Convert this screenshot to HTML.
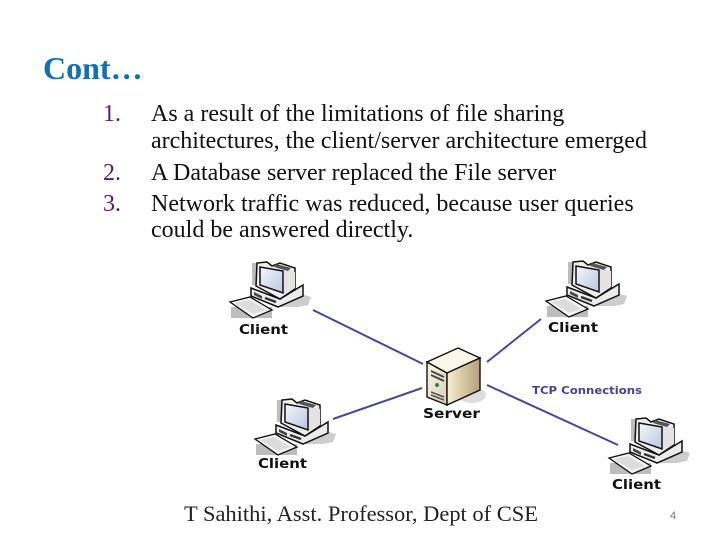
<!DOCTYPE html>
<html><head><meta charset="utf-8">
<style>
html,body{margin:0;padding:0;background:#fff}
#p{position:relative;width:720px;height:540px;overflow:hidden;background:#fff;font-family:"Liberation Serif",serif}
.t{position:absolute;white-space:nowrap;font-size:24px;line-height:26px;color:#111}
.n{color:#5a1a6e}
svg{position:absolute;left:0;top:0}
</style></head><body>
<div id="p">
<div class="t" style="left:43px;top:50px;font-size:32px;line-height:36px;font-weight:bold;color:#1170b4">Cont…</div>
<div class="t n" style="left:103px;top:101px">1.</div>
<div class="t n" style="left:103px;top:160px">2.</div>
<div class="t n" style="left:103px;top:191px">3.</div>
<div class="t" style="left:151px;top:101px">As a result of the limitations of file sharing</div>
<div class="t" style="left:151px;top:128px">architectures, the client/server architecture emerged</div>
<div class="t" style="left:151px;top:160px">A Database server replaced the File server</div>
<div class="t" style="left:151px;top:191px">Network traffic was reduced, because user queries</div>
<div class="t" style="left:151px;top:217px">could be answered directly.</div>

<svg width="720" height="540" viewBox="0 0 720 540">
<defs>
<linearGradient id="scr" x1="0" y1="0" x2="1" y2="1"><stop offset="0" stop-color="#f6f8fc"/><stop offset="1" stop-color="#b9c6de"/></linearGradient>
<linearGradient id="box" x1="0" y1="0" x2="1" y2="0"><stop offset="0" stop-color="#f8eed2"/><stop offset="1" stop-color="#b5a078"/></linearGradient>
<linearGradient id="front" x1="0" y1="0" x2="1" y2="1"><stop offset="0" stop-color="#fbf7ea"/><stop offset="1" stop-color="#d8cfb4"/></linearGradient>
<g id="pc">
<path d="M50 33 L68 33 L81 37 L78 45 L68 47 L50 47Z" fill="#cdcdcd"/>
<rect x="22" y="3" width="6" height="22" fill="#bdbdbd"/>
<rect x="1" y="47" width="41" height="11" fill="#bdbdbd"/>
<!-- base -->
<path d="M21 28 L50 39 L73 25 L73 36 L48 47 L21 36Z" fill="#ececec" stroke="#111" stroke-width="1.5"/>
<path d="M24 32 L32 36 L32 39 L24 35Z" fill="#444"/>
<path d="M35 38 L46 42" stroke="#333" stroke-width="2.4"/>
<!-- monitor -->
<path d="M27 3 L37 2 L42 6 L50 3 L65 8 L65 29 L50 39 L26 26Z" fill="#f0eeee" stroke="#111" stroke-width="1.5"/>
<path d="M54 10 L65 12 L65 28 L54 34Z" fill="#e6e2e2"/>
<path d="M30 7 L53 11 L53 33 L30 25Z" fill="url(#scr)" stroke="#111" stroke-width="1.5"/>
<path d="M46 4 L61 8 L58 11 L44 7Z" fill="#555"/>
<!-- keyboard -->
<path d="M0 42 L20 37 L42 50 L23 58Z" fill="#f4f4f4" stroke="#111" stroke-width="1.3"/>
<path d="M5 43 L19 40 L36 50 L23 54Z" fill="#dcdcdc"/>
</g>
</defs>

<g stroke="#4a4799" stroke-width="2" fill="none">
<line x1="313" y1="310" x2="423" y2="364"/>
<line x1="541" y1="319" x2="487" y2="362"/>
<line x1="333" y1="419" x2="422" y2="388"/>
<line x1="487" y1="385" x2="618" y2="445"/>
</g>

<use href="#pc" x="230" y="260"/>
<use href="#pc" x="546" y="259"/>
<use href="#pc" x="255" y="397"/>
<use href="#pc" x="609" y="416"/>

<!-- server -->
<ellipse cx="472" cy="395" rx="14" ry="8" fill="#ddd"/>
<path d="M427 362 L447 373 L447 405 L427 397Z" fill="url(#front)" stroke="#111" stroke-width="1.4"/>
<path d="M427 362 L458 348 L480 358 L447 373Z" fill="#fbf6e6" stroke="#111" stroke-width="1.4"/>
<path d="M447 373 L480 358 L480 390 L447 405Z" fill="url(#box)" stroke="#111" stroke-width="1.4"/>
<path d="M431 371 L444 377 M431 375 L444 381" stroke="#444" stroke-width="1.8"/>
<circle cx="437" cy="385" r="2" fill="#3f7f4f"/>
<path d="M431 392 L444 397 M431 395 L444 400" stroke="#555" stroke-width="1.6"/>

<g font-family="'DejaVu Sans',sans-serif" font-weight="bold" fill="#111" font-size="13.5">
<text x="239" y="334" textLength="49" lengthAdjust="spacingAndGlyphs">Client</text>
<text x="548" y="332" textLength="50" lengthAdjust="spacingAndGlyphs">Client</text>
<text x="258" y="468" textLength="49" lengthAdjust="spacingAndGlyphs">Client</text>
<text x="612" y="489" textLength="49" lengthAdjust="spacingAndGlyphs">Client</text>
<text x="423" y="418" textLength="57" lengthAdjust="spacingAndGlyphs">Server</text>
<text x="532" y="394" font-size="10.5" fill="#46439a" textLength="110" lengthAdjust="spacingAndGlyphs">TCP Connections</text>
</g>
<text x="184" y="521" font-family="'Liberation Serif',serif" font-size="22.5" fill="#222" textLength="354" lengthAdjust="spacingAndGlyphs">T Sahithi, Asst. Professor, Dept of CSE</text>
<text x="673" y="519" text-anchor="middle" font-family="'Liberation Sans',sans-serif" font-size="11" fill="#777">4</text>
</svg>
</div>
</body></html>
